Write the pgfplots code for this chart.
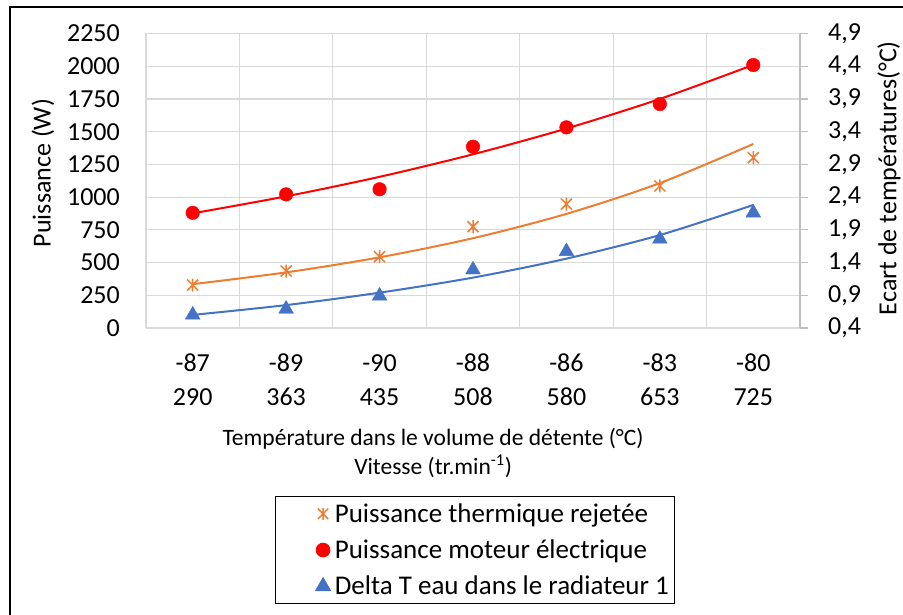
\documentclass[border=0pt]{standalone}
\usepackage{fontspec}
\setmainfont{Carlito}
\usepackage{pgfplots}
\pgfplotsset{compat=1.18}
\definecolor{xlorange}{HTML}{ED7D31}
\definecolor{xlred}{HTML}{FF0000}
\definecolor{xlblue}{HTML}{4472C4}
\definecolor{gridc}{HTML}{D9D9D9}
\definecolor{axc}{HTML}{BFBFBF}
\newcommand\cf{\fontsize{26pt}{34pt}\selectfont}
\newcommand\lf{\fontsize{23.5pt}{30pt}\selectfont}
\newcommand\gf{\fontsize{27pt}{33pt}\selectfont}
\pgfdeclareplotmark{xlstar}{%
 \pgfpathmoveto{\pgfqpoint{0pt}{\pgfplotmarksize}}\pgfpathlineto{\pgfqpoint{0pt}{-\pgfplotmarksize}}%
 \pgfpathmoveto{\pgfqpoint{-0.85\pgfplotmarksize}{0.85\pgfplotmarksize}}\pgfpathlineto{\pgfqpoint{0.85\pgfplotmarksize}{-0.85\pgfplotmarksize}}%
 \pgfpathmoveto{\pgfqpoint{-0.85\pgfplotmarksize}{-0.85\pgfplotmarksize}}\pgfpathlineto{\pgfqpoint{0.85\pgfplotmarksize}{0.85\pgfplotmarksize}}%
 \pgfusepathqstroke}
\begin{document}
\begin{tikzpicture}[x=1pt,y=1pt]
\useasboundingbox (0,0) rectangle (903,614);
\fill[white] (0,0) rectangle (903,614);
\draw[black, line width=1.5pt] (10,-20) -- (10,607) -- (930,607);
\begin{axis}[
  at={(146pt,286pt)}, anchor=south west,
  scale only axis, width=654pt, height=294.5pt,
  xmin=-0.5, xmax=6.5, ymin=0, ymax=2250,
  xtick={0,...,6},
  xticklabels={{-87\\290},{-89\\363},{-90\\435},{-88\\508},{-86\\580},{-83\\653},{-80\\725}},
  minor xtick={-0.5,0.5,...,6.5},
  xminorgrids, ymajorgrids,
  ytick={0,250,...,2250},
  grid style={gridc, line width=1.2pt},
  minor grid style={gridc, line width=1.2pt},
  axis line style={gridc, line width=1.2pt},
  axis x line*=bottom, axis y line*=left,
  major tick length=0pt, minor tick length=0pt,
  tick label style={font=\cf},
  /pgf/number format/assume math mode=true,
  /pgf/number format/1000 sep={},
  xticklabel style={align=center, anchor=north, inner sep=0pt, yshift=-26pt},
  yticklabel style={anchor=east, inner sep=0pt, xshift=-26pt},
  ylabel={Puissance (W)},
  ylabel style={font=\cf, at={(axis description cs:-0.1575,0.526)}, anchor=center},
  xlabel={Température dans le volume de détente (°C)\\[-1pt]Vitesse (tr.min\textsuperscript{-1})},
  xlabel style={font=\lf, align=center, at={(axis description cs:0.439,-0.4245)}, anchor=center},
]
\addplot[xlorange, line width=2pt, smooth] coordinates {(0,335)(1,425)(2,540)(3,686)(4,872)(5,1107)(6,1406)};
\addplot[xlred, line width=2pt, smooth] coordinates {(0,876)(1,1006)(2,1155)(3,1327)(4,1524)(5,1750)(6,2010)};
\addplot[only marks, mark=xlstar, mark size=6.5pt, xlorange, line width=1.5pt] coordinates {(0,328)(1,435)(2,545)(3,774)(4,947)(5,1085)(6,1301)};
\addplot[only marks, mark=*, mark size=6.8pt, xlred] coordinates {(0,880)(1,1021)(2,1060)(3,1385)(4,1533)(5,1711)(6,2009)};
\end{axis}
\begin{axis}[
  at={(146pt,286pt)}, anchor=south west,
  scale only axis, width=654pt, height=294.5pt,
  xmin=-0.5, xmax=6.5, ymin=0.4, ymax=4.9,
  axis x line=none, axis y line*=right,
  ytick={0.4,0.9,1.4,1.9,2.4,2.9,3.4,3.9,4.4,4.9},
  tick align=outside, major tick length=8pt,
  tick style={axc, line width=1.2pt},
  axis line style={axc, line width=1.2pt},
  tick label style={font=\cf},
  /pgf/number format/assume math mode=true,
  yticklabel style={anchor=west, inner sep=0pt, xshift=20pt, /pgf/number format/.cd, use comma, fixed, fixed zerofill, precision=1},
  ylabel={Ecart de températures(°C)},
  ylabel style={font=\cf, at={(axis description cs:1.136,0.509)}, anchor=center, rotate=0},
  legend cell align=left,
  legend style={at={(axis description cs:0.197,-0.571)}, anchor=north west, draw=black, line width=1pt, fill=white, font=\gf, inner xsep=4pt, inner ysep=5pt, row sep=12pt},
  legend image code/.code={\path (0pt,0pt) (52pt,0pt); \draw[mark repeat=2,mark phase=2,#1,only marks] plot coordinates {(0pt,0pt)(43pt,0pt)(52pt,0pt)};},
]
\addlegendimage{mark=xlstar, mark size=6pt, xlorange, line width=1.5pt}
\addlegendentry{Puissance thermique rejetée}
\addlegendimage{mark=*, mark size=6.8pt, xlred}
\addlegendentry{Puissance moteur électrique}
\addlegendimage{mark=triangle*, mark size=8.5pt, xlblue}
\addlegendentry{Delta T eau dans le radiateur 1}
\addplot[xlblue, line width=2pt, smooth, forget plot] coordinates {(0,0.60)(1,0.75)(2,0.94)(3,1.17)(4,1.46)(5,1.82)(6,2.28)};
\addplot[only marks, mark=triangle*, mark size=8.5pt, xlblue, forget plot] coordinates {(0,0.60)(1,0.69)(2,0.89)(3,1.29)(4,1.57)(5,1.76)(6,2.16)};
\end{axis}
\end{tikzpicture}
\end{document}
